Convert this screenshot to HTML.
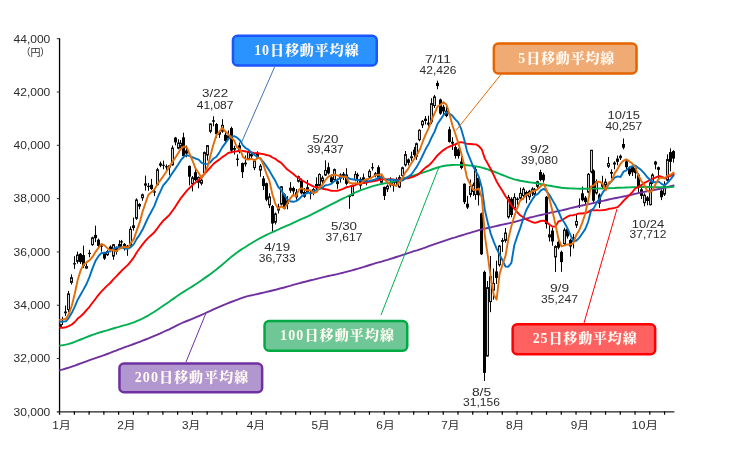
<!DOCTYPE html>
<html lang="ja"><head><meta charset="utf-8"><title>日経平均株価と移動平均線</title>
<style>html,body{margin:0;padding:0;background:#fff}svg{display:block}</style></head>
<body><svg width="755" height="468" viewBox="0 0 755 468">
<rect width="755" height="468" fill="#fff"/>
<g stroke="#000" stroke-width="1"><line x1="59.55" y1="38.2" x2="59.55" y2="414.7" stroke-width="1.3"/><line x1="56.8" y1="411.85" x2="674.4" y2="411.85" stroke-width="1.1" stroke="#222"/><line x1="56.8" y1="38.70" x2="59.5" y2="38.70" stroke="#333"/><line x1="56.8" y1="92.01" x2="59.5" y2="92.01" stroke="#333"/><line x1="56.8" y1="145.31" x2="59.5" y2="145.31" stroke="#333"/><line x1="56.8" y1="198.62" x2="59.5" y2="198.62" stroke="#333"/><line x1="56.8" y1="251.93" x2="59.5" y2="251.93" stroke="#333"/><line x1="56.8" y1="305.24" x2="59.5" y2="305.24" stroke="#333"/><line x1="56.8" y1="358.54" x2="59.5" y2="358.54" stroke="#333"/><line x1="74.36" y1="411.3" x2="74.36" y2="414.7" stroke-width="1.2"/><line x1="89.11" y1="411.3" x2="89.11" y2="414.7" stroke-width="1.2"/><line x1="103.87" y1="411.3" x2="103.87" y2="414.7" stroke-width="1.2"/><line x1="118.62" y1="411.3" x2="118.62" y2="414.7" stroke-width="1.2"/><line x1="133.38" y1="411.3" x2="133.38" y2="414.7" stroke-width="1.2"/><line x1="148.13" y1="411.3" x2="148.13" y2="414.7" stroke-width="1.2"/><line x1="162.89" y1="411.3" x2="162.89" y2="414.7" stroke-width="1.2"/><line x1="177.64" y1="411.3" x2="177.64" y2="414.7" stroke-width="1.2"/><line x1="192.40" y1="411.3" x2="192.40" y2="414.7" stroke-width="1.2"/><line x1="207.15" y1="411.3" x2="207.15" y2="414.7" stroke-width="1.2"/><line x1="221.91" y1="411.3" x2="221.91" y2="414.7" stroke-width="1.2"/><line x1="236.66" y1="411.3" x2="236.66" y2="414.7" stroke-width="1.2"/><line x1="251.41" y1="411.3" x2="251.41" y2="414.7" stroke-width="1.2"/><line x1="266.17" y1="411.3" x2="266.17" y2="414.7" stroke-width="1.2"/><line x1="280.93" y1="411.3" x2="280.93" y2="414.7" stroke-width="1.2"/><line x1="295.68" y1="411.3" x2="295.68" y2="414.7" stroke-width="1.2"/><line x1="310.44" y1="411.3" x2="310.44" y2="414.7" stroke-width="1.2"/><line x1="325.19" y1="411.3" x2="325.19" y2="414.7" stroke-width="1.2"/><line x1="339.95" y1="411.3" x2="339.95" y2="414.7" stroke-width="1.2"/><line x1="354.70" y1="411.3" x2="354.70" y2="414.7" stroke-width="1.2"/><line x1="369.46" y1="411.3" x2="369.46" y2="414.7" stroke-width="1.2"/><line x1="384.21" y1="411.3" x2="384.21" y2="414.7" stroke-width="1.2"/><line x1="398.97" y1="411.3" x2="398.97" y2="414.7" stroke-width="1.2"/><line x1="413.72" y1="411.3" x2="413.72" y2="414.7" stroke-width="1.2"/><line x1="428.48" y1="411.3" x2="428.48" y2="414.7" stroke-width="1.2"/><line x1="443.23" y1="411.3" x2="443.23" y2="414.7" stroke-width="1.2"/><line x1="457.99" y1="411.3" x2="457.99" y2="414.7" stroke-width="1.2"/><line x1="472.74" y1="411.3" x2="472.74" y2="414.7" stroke-width="1.2"/><line x1="487.50" y1="411.3" x2="487.50" y2="414.7" stroke-width="1.2"/><line x1="502.25" y1="411.3" x2="502.25" y2="414.7" stroke-width="1.2"/><line x1="517.00" y1="411.3" x2="517.00" y2="414.7" stroke-width="1.2"/><line x1="531.76" y1="411.3" x2="531.76" y2="414.7" stroke-width="1.2"/><line x1="546.51" y1="411.3" x2="546.51" y2="414.7" stroke-width="1.2"/><line x1="561.27" y1="411.3" x2="561.27" y2="414.7" stroke-width="1.2"/><line x1="576.03" y1="411.3" x2="576.03" y2="414.7" stroke-width="1.2"/><line x1="590.78" y1="411.3" x2="590.78" y2="414.7" stroke-width="1.2"/><line x1="605.54" y1="411.3" x2="605.54" y2="414.7" stroke-width="1.2"/><line x1="620.29" y1="411.3" x2="620.29" y2="414.7" stroke-width="1.2"/><line x1="635.05" y1="411.3" x2="635.05" y2="414.7" stroke-width="1.2"/><line x1="649.80" y1="411.3" x2="649.80" y2="414.7" stroke-width="1.2"/><line x1="664.56" y1="411.3" x2="664.56" y2="414.7" stroke-width="1.2"/></g>
<g><line x1="60.5" y1="323.9" x2="60.5" y2="327.9" stroke="#000" stroke-width="1"/><rect x="59.5" y="324.6" width="2" height="1.7" fill="#d4d4d4" stroke="#111" stroke-width="1"/><line x1="62.5" y1="316.8" x2="62.5" y2="325.0" stroke="#000" stroke-width="1"/><rect x="61.0" y="321.1" width="3" height="1.0" fill="#000"/><line x1="65.5" y1="305.5" x2="65.5" y2="315.9" stroke="#000" stroke-width="1"/><rect x="64.5" y="312.0" width="2" height="0.8" fill="#d4d4d4" stroke="#111" stroke-width="1"/><line x1="68.5" y1="290.9" x2="68.5" y2="312.2" stroke="#000" stroke-width="1"/><rect x="67.5" y="293.9" width="2" height="15.6" fill="#d4d4d4" stroke="#111" stroke-width="1"/><line x1="71.5" y1="274.4" x2="71.5" y2="284.5" stroke="#000" stroke-width="1"/><rect x="70.5" y="277.7" width="2" height="4.7" fill="#d4d4d4" stroke="#111" stroke-width="1"/><line x1="74.5" y1="256.2" x2="74.5" y2="268.9" stroke="#000" stroke-width="1"/><rect x="73.5" y="263.6" width="2" height="0.3" fill="#d4d4d4" stroke="#111" stroke-width="1"/><line x1="77.5" y1="251.7" x2="77.5" y2="263.7" stroke="#000" stroke-width="1"/><rect x="76.5" y="255.0" width="2" height="6.3" fill="#d4d4d4" stroke="#111" stroke-width="1"/><line x1="80.5" y1="253.0" x2="80.5" y2="263.9" stroke="#000" stroke-width="1"/><rect x="79.0" y="253.8" width="3" height="8.3" fill="#000"/><line x1="83.5" y1="245.6" x2="83.5" y2="267.9" stroke="#000" stroke-width="1"/><rect x="82.0" y="255.1" width="3" height="10.7" fill="#000"/><line x1="86.5" y1="263.7" x2="86.5" y2="268.7" stroke="#000" stroke-width="1"/><rect x="85.5" y="266.6" width="2" height="1.5" fill="#d4d4d4" stroke="#111" stroke-width="1"/><line x1="89.5" y1="249.9" x2="89.5" y2="257.3" stroke="#000" stroke-width="1"/><rect x="88.5" y="253.3" width="2" height="0.3" fill="#d4d4d4" stroke="#111" stroke-width="1"/><line x1="92.5" y1="236.7" x2="92.5" y2="245.8" stroke="#000" stroke-width="1"/><rect x="91.5" y="237.8" width="2" height="6.8" fill="#d4d4d4" stroke="#111" stroke-width="1"/><line x1="95.5" y1="225.7" x2="95.5" y2="242.1" stroke="#000" stroke-width="1"/><rect x="94.0" y="234.9" width="3" height="3.3" fill="#000"/><line x1="98.5" y1="238.6" x2="98.5" y2="247.1" stroke="#000" stroke-width="1"/><rect x="97.0" y="239.7" width="3" height="6.2" fill="#000"/><line x1="101.5" y1="243.9" x2="101.5" y2="251.7" stroke="#000" stroke-width="1"/><rect x="100.5" y="246.0" width="2" height="0.3" fill="#d4d4d4" stroke="#111" stroke-width="1"/><line x1="104.5" y1="251.9" x2="104.5" y2="259.9" stroke="#000" stroke-width="1"/><rect x="103.0" y="252.2" width="3" height="6.4" fill="#000"/><line x1="107.5" y1="250.1" x2="107.5" y2="255.9" stroke="#000" stroke-width="1"/><rect x="106.5" y="251.6" width="2" height="3.1" fill="#d4d4d4" stroke="#111" stroke-width="1"/><line x1="110.5" y1="245.3" x2="110.5" y2="252.2" stroke="#000" stroke-width="1"/><rect x="109.0" y="246.6" width="3" height="3.6" fill="#000"/><line x1="113.5" y1="244.1" x2="113.5" y2="259.8" stroke="#000" stroke-width="1"/><rect x="112.5" y="244.7" width="2" height="11.4" fill="#d4d4d4" stroke="#111" stroke-width="1"/><line x1="116.5" y1="246.6" x2="116.5" y2="254.6" stroke="#000" stroke-width="1"/><rect x="115.0" y="246.9" width="3" height="4.8" fill="#000"/><line x1="119.5" y1="240.2" x2="119.5" y2="249.3" stroke="#000" stroke-width="1"/><rect x="118.0" y="243.9" width="3" height="3.8" fill="#000"/><line x1="121.5" y1="239.9" x2="121.5" y2="246.6" stroke="#000" stroke-width="1"/><rect x="120.0" y="241.3" width="3" height="1.2" fill="#000"/><line x1="124.5" y1="243.1" x2="124.5" y2="250.6" stroke="#000" stroke-width="1"/><rect x="123.0" y="243.9" width="3" height="3.7" fill="#000"/><line x1="127.5" y1="245.0" x2="127.5" y2="255.8" stroke="#000" stroke-width="1"/><rect x="126.0" y="245.8" width="3" height="3.0" fill="#000"/><line x1="130.5" y1="226.4" x2="130.5" y2="246.6" stroke="#000" stroke-width="1"/><rect x="129.5" y="229.3" width="2" height="16.0" fill="#d4d4d4" stroke="#111" stroke-width="1"/><line x1="133.5" y1="217.6" x2="133.5" y2="230.6" stroke="#000" stroke-width="1"/><rect x="132.0" y="225.3" width="3" height="2.7" fill="#000"/><line x1="136.5" y1="198.4" x2="136.5" y2="219.9" stroke="#000" stroke-width="1"/><rect x="135.5" y="200.0" width="2" height="18.3" fill="#d4d4d4" stroke="#111" stroke-width="1"/><line x1="139.5" y1="203.2" x2="139.5" y2="209.3" stroke="#000" stroke-width="1"/><rect x="138.0" y="204.0" width="3" height="2.6" fill="#000"/><line x1="142.5" y1="193.6" x2="142.5" y2="200.8" stroke="#000" stroke-width="1"/><rect x="141.5" y="194.8" width="2" height="2.9" fill="#d4d4d4" stroke="#111" stroke-width="1"/><line x1="145.5" y1="175.6" x2="145.5" y2="190.6" stroke="#000" stroke-width="1"/><rect x="144.0" y="183.4" width="3" height="2.2" fill="#000"/><line x1="148.5" y1="182.9" x2="148.5" y2="190.8" stroke="#000" stroke-width="1"/><rect x="147.5" y="186.3" width="2" height="0.3" fill="#d4d4d4" stroke="#111" stroke-width="1"/><line x1="151.5" y1="178.9" x2="151.5" y2="189.8" stroke="#000" stroke-width="1"/><rect x="150.0" y="184.8" width="3" height="4.2" fill="#000"/><line x1="154.5" y1="189.6" x2="154.5" y2="196.1" stroke="#000" stroke-width="1"/><rect x="153.5" y="191.8" width="2" height="0.3" fill="#d4d4d4" stroke="#111" stroke-width="1"/><line x1="157.5" y1="167.8" x2="157.5" y2="185.3" stroke="#000" stroke-width="1"/><rect x="156.5" y="169.8" width="2" height="14.9" fill="#d4d4d4" stroke="#111" stroke-width="1"/><line x1="160.5" y1="161.6" x2="160.5" y2="167.2" stroke="#000" stroke-width="1"/><rect x="159.0" y="163.4" width="3" height="2.3" fill="#000"/><line x1="163.5" y1="160.6" x2="163.5" y2="169.3" stroke="#000" stroke-width="1"/><rect x="162.0" y="164.8" width="3" height="1.0" fill="#000"/><line x1="166.5" y1="164.4" x2="166.5" y2="170.0" stroke="#000" stroke-width="1"/><rect x="165.5" y="166.6" width="2" height="0.3" fill="#d4d4d4" stroke="#111" stroke-width="1"/><line x1="169.5" y1="165.3" x2="169.5" y2="175.3" stroke="#000" stroke-width="1"/><rect x="168.0" y="165.3" width="3" height="2.2" fill="#000"/><line x1="172.5" y1="145.6" x2="172.5" y2="165.6" stroke="#000" stroke-width="1"/><rect x="171.5" y="148.1" width="2" height="16.8" fill="#d4d4d4" stroke="#111" stroke-width="1"/><line x1="175.5" y1="136.9" x2="175.5" y2="145.3" stroke="#000" stroke-width="1"/><rect x="174.0" y="137.6" width="3" height="4.8" fill="#000"/><line x1="178.5" y1="139.3" x2="178.5" y2="149.3" stroke="#000" stroke-width="1"/><rect x="177.5" y="143.1" width="2" height="5.0" fill="#d4d4d4" stroke="#111" stroke-width="1"/><line x1="180.5" y1="140.0" x2="180.5" y2="148.0" stroke="#000" stroke-width="1"/><rect x="179.5" y="143.3" width="2" height="2.9" fill="#d4d4d4" stroke="#111" stroke-width="1"/><line x1="183.5" y1="132.7" x2="183.5" y2="158.2" stroke="#000" stroke-width="1"/><rect x="182.0" y="137.3" width="3" height="18.7" fill="#000"/><line x1="186.5" y1="145.6" x2="186.5" y2="157.3" stroke="#000" stroke-width="1"/><rect x="185.0" y="150.4" width="3" height="3.2" fill="#000"/><line x1="189.5" y1="165.6" x2="189.5" y2="185.4" stroke="#000" stroke-width="1"/><rect x="188.0" y="165.8" width="3" height="10.9" fill="#000"/><line x1="192.5" y1="176.0" x2="192.5" y2="191.4" stroke="#000" stroke-width="1"/><rect x="191.5" y="177.8" width="2" height="6.0" fill="#d4d4d4" stroke="#111" stroke-width="1"/><line x1="195.5" y1="168.0" x2="195.5" y2="181.3" stroke="#000" stroke-width="1"/><rect x="194.0" y="172.2" width="3" height="7.9" fill="#000"/><line x1="198.5" y1="176.5" x2="198.5" y2="188.3" stroke="#000" stroke-width="1"/><rect x="197.5" y="177.5" width="2" height="4.7" fill="#d4d4d4" stroke="#111" stroke-width="1"/><line x1="201.5" y1="177.3" x2="201.5" y2="185.3" stroke="#000" stroke-width="1"/><rect x="200.5" y="180.2" width="2" height="3.1" fill="#d4d4d4" stroke="#111" stroke-width="1"/><line x1="204.5" y1="151.5" x2="204.5" y2="173.8" stroke="#000" stroke-width="1"/><rect x="203.5" y="152.6" width="2" height="20.0" fill="#d4d4d4" stroke="#111" stroke-width="1"/><line x1="207.5" y1="145.2" x2="207.5" y2="160.6" stroke="#000" stroke-width="1"/><rect x="206.5" y="145.6" width="2" height="9.4" fill="#d4d4d4" stroke="#111" stroke-width="1"/><line x1="210.5" y1="123.4" x2="210.5" y2="133.3" stroke="#000" stroke-width="1"/><rect x="209.5" y="124.0" width="2" height="7.3" fill="#d4d4d4" stroke="#111" stroke-width="1"/><line x1="213.5" y1="116.3" x2="213.5" y2="126.3" stroke="#000" stroke-width="1"/><rect x="212.0" y="120.3" width="3" height="1.4" fill="#000"/><line x1="216.5" y1="123.0" x2="216.5" y2="137.9" stroke="#000" stroke-width="1"/><rect x="215.0" y="124.0" width="3" height="10.2" fill="#000"/><line x1="219.5" y1="131.2" x2="219.5" y2="137.9" stroke="#000" stroke-width="1"/><rect x="218.0" y="132.0" width="3" height="2.7" fill="#000"/><line x1="222.5" y1="119.2" x2="222.5" y2="132.8" stroke="#000" stroke-width="1"/><rect x="221.5" y="125.4" width="2" height="5.7" fill="#d4d4d4" stroke="#111" stroke-width="1"/><line x1="225.5" y1="132.0" x2="225.5" y2="143.9" stroke="#000" stroke-width="1"/><rect x="224.0" y="134.7" width="3" height="6.2" fill="#000"/><line x1="228.5" y1="130.4" x2="228.5" y2="140.0" stroke="#000" stroke-width="1"/><rect x="227.5" y="135.9" width="2" height="2.4" fill="#d4d4d4" stroke="#111" stroke-width="1"/><line x1="231.5" y1="126.7" x2="231.5" y2="153.2" stroke="#000" stroke-width="1"/><rect x="230.0" y="128.1" width="3" height="22.5" fill="#000"/><line x1="234.5" y1="145.8" x2="234.5" y2="154.6" stroke="#000" stroke-width="1"/><rect x="233.0" y="148.0" width="3" height="1.7" fill="#000"/><line x1="237.5" y1="154.4" x2="237.5" y2="166.2" stroke="#000" stroke-width="1"/><rect x="236.0" y="158.6" width="3" height="1.3" fill="#000"/><line x1="239.5" y1="142.6" x2="239.5" y2="153.3" stroke="#000" stroke-width="1"/><rect x="238.0" y="145.3" width="3" height="6.1" fill="#000"/><line x1="242.5" y1="162.6" x2="242.5" y2="178.0" stroke="#000" stroke-width="1"/><rect x="241.0" y="163.1" width="3" height="9.1" fill="#000"/><line x1="245.5" y1="155.5" x2="245.5" y2="166.6" stroke="#000" stroke-width="1"/><rect x="244.5" y="163.1" width="2" height="0.7" fill="#d4d4d4" stroke="#111" stroke-width="1"/><line x1="248.5" y1="150.6" x2="248.5" y2="160.0" stroke="#000" stroke-width="1"/><rect x="247.5" y="151.8" width="2" height="7.0" fill="#d4d4d4" stroke="#111" stroke-width="1"/><line x1="251.5" y1="152.0" x2="251.5" y2="158.6" stroke="#000" stroke-width="1"/><rect x="250.0" y="153.8" width="3" height="2.6" fill="#000"/><line x1="254.5" y1="159.2" x2="254.5" y2="170.2" stroke="#000" stroke-width="1"/><rect x="253.5" y="160.6" width="2" height="7.0" fill="#d4d4d4" stroke="#111" stroke-width="1"/><line x1="257.5" y1="151.3" x2="257.5" y2="159.2" stroke="#000" stroke-width="1"/><rect x="256.0" y="152.8" width="3" height="5.3" fill="#000"/><line x1="260.5" y1="164.0" x2="260.5" y2="176.8" stroke="#000" stroke-width="1"/><rect x="259.5" y="166.2" width="2" height="3.9" fill="#d4d4d4" stroke="#111" stroke-width="1"/><line x1="263.5" y1="176.0" x2="263.5" y2="190.0" stroke="#000" stroke-width="1"/><rect x="262.0" y="178.4" width="3" height="7.7" fill="#000"/><line x1="266.5" y1="182.6" x2="266.5" y2="201.3" stroke="#000" stroke-width="1"/><rect x="265.0" y="183.2" width="3" height="16.5" fill="#000"/><line x1="269.5" y1="193.3" x2="269.5" y2="208.1" stroke="#000" stroke-width="1"/><rect x="268.5" y="196.9" width="2" height="8.0" fill="#d4d4d4" stroke="#111" stroke-width="1"/><line x1="272.5" y1="205.0" x2="272.5" y2="232.4" stroke="#000" stroke-width="1"/><rect x="271.0" y="206.1" width="3" height="17.4" fill="#000"/><line x1="275.5" y1="212.5" x2="275.5" y2="224.5" stroke="#000" stroke-width="1"/><rect x="274.5" y="214.0" width="2" height="8.2" fill="#d4d4d4" stroke="#111" stroke-width="1"/><line x1="278.5" y1="203.7" x2="278.5" y2="213.5" stroke="#000" stroke-width="1"/><rect x="277.0" y="206.6" width="3" height="3.9" fill="#000"/><line x1="281.5" y1="186.1" x2="281.5" y2="205.3" stroke="#000" stroke-width="1"/><rect x="280.5" y="186.8" width="2" height="17.3" fill="#d4d4d4" stroke="#111" stroke-width="1"/><line x1="284.5" y1="193.3" x2="284.5" y2="209.3" stroke="#000" stroke-width="1"/><rect x="283.0" y="194.4" width="3" height="14.2" fill="#000"/><line x1="287.5" y1="196.0" x2="287.5" y2="209.3" stroke="#000" stroke-width="1"/><rect x="286.5" y="200.8" width="2" height="2.8" fill="#d4d4d4" stroke="#111" stroke-width="1"/><line x1="290.5" y1="182.1" x2="290.5" y2="192.8" stroke="#000" stroke-width="1"/><rect x="289.5" y="188.2" width="2" height="2.0" fill="#d4d4d4" stroke="#111" stroke-width="1"/><line x1="293.5" y1="186.6" x2="293.5" y2="196.0" stroke="#000" stroke-width="1"/><rect x="292.0" y="188.0" width="3" height="3.4" fill="#000"/><line x1="296.5" y1="189.0" x2="296.5" y2="199.7" stroke="#000" stroke-width="1"/><rect x="295.5" y="192.7" width="2" height="4.2" fill="#d4d4d4" stroke="#111" stroke-width="1"/><line x1="298.5" y1="175.6" x2="298.5" y2="182.6" stroke="#000" stroke-width="1"/><rect x="297.5" y="176.8" width="2" height="4.4" fill="#d4d4d4" stroke="#111" stroke-width="1"/><line x1="301.5" y1="178.6" x2="301.5" y2="194.4" stroke="#000" stroke-width="1"/><rect x="300.0" y="180.6" width="3" height="12.7" fill="#000"/><line x1="304.5" y1="188.0" x2="304.5" y2="197.8" stroke="#000" stroke-width="1"/><rect x="303.0" y="192.0" width="3" height="4.7" fill="#000"/><line x1="307.5" y1="180.0" x2="307.5" y2="193.3" stroke="#000" stroke-width="1"/><rect x="306.0" y="187.2" width="3" height="5.4" fill="#000"/><line x1="310.5" y1="190.6" x2="310.5" y2="199.4" stroke="#000" stroke-width="1"/><rect x="309.0" y="193.1" width="3" height="1.0" fill="#000"/><line x1="313.5" y1="188.0" x2="313.5" y2="195.2" stroke="#000" stroke-width="1"/><rect x="312.5" y="189.5" width="2" height="3.4" fill="#d4d4d4" stroke="#111" stroke-width="1"/><line x1="316.5" y1="177.3" x2="316.5" y2="190.1" stroke="#000" stroke-width="1"/><rect x="315.0" y="184.0" width="3" height="4.4" fill="#000"/><line x1="319.5" y1="173.3" x2="319.5" y2="186.6" stroke="#000" stroke-width="1"/><rect x="318.5" y="174.5" width="2" height="10.9" fill="#d4d4d4" stroke="#111" stroke-width="1"/><line x1="322.5" y1="175.7" x2="322.5" y2="184.8" stroke="#000" stroke-width="1"/><rect x="321.5" y="178.0" width="2" height="3.1" fill="#d4d4d4" stroke="#111" stroke-width="1"/><line x1="325.5" y1="160.3" x2="325.5" y2="176.0" stroke="#000" stroke-width="1"/><rect x="324.5" y="170.5" width="2" height="4.5" fill="#d4d4d4" stroke="#111" stroke-width="1"/><line x1="328.5" y1="162.7" x2="328.5" y2="174.6" stroke="#000" stroke-width="1"/><rect x="327.0" y="167.2" width="3" height="6.2" fill="#000"/><line x1="331.5" y1="174.6" x2="331.5" y2="184.0" stroke="#000" stroke-width="1"/><rect x="330.0" y="177.3" width="3" height="4.9" fill="#000"/><line x1="334.5" y1="168.5" x2="334.5" y2="181.3" stroke="#000" stroke-width="1"/><rect x="333.5" y="169.6" width="2" height="9.9" fill="#d4d4d4" stroke="#111" stroke-width="1"/><line x1="337.5" y1="178.6" x2="337.5" y2="188.8" stroke="#000" stroke-width="1"/><rect x="336.5" y="181.8" width="2" height="1.8" fill="#d4d4d4" stroke="#111" stroke-width="1"/><line x1="340.5" y1="173.3" x2="340.5" y2="182.6" stroke="#000" stroke-width="1"/><rect x="339.5" y="175.0" width="2" height="3.2" fill="#d4d4d4" stroke="#111" stroke-width="1"/><line x1="343.5" y1="172.0" x2="343.5" y2="180.0" stroke="#000" stroke-width="1"/><rect x="342.0" y="173.8" width="3" height="2.0" fill="#000"/><line x1="346.5" y1="168.2" x2="346.5" y2="185.3" stroke="#000" stroke-width="1"/><rect x="345.0" y="174.6" width="3" height="9.2" fill="#000"/><line x1="349.5" y1="194.9" x2="349.5" y2="208.8" stroke="#000" stroke-width="1"/><rect x="348.0" y="195.6" width="3" height="1.5" fill="#000"/><line x1="352.5" y1="184.6" x2="352.5" y2="196.3" stroke="#000" stroke-width="1"/><rect x="351.5" y="186.0" width="2" height="9.5" fill="#d4d4d4" stroke="#111" stroke-width="1"/><line x1="355.5" y1="171.1" x2="355.5" y2="181.3" stroke="#000" stroke-width="1"/><rect x="354.5" y="174.4" width="2" height="5.1" fill="#d4d4d4" stroke="#111" stroke-width="1"/><line x1="357.5" y1="172.8" x2="357.5" y2="183.2" stroke="#000" stroke-width="1"/><rect x="356.0" y="174.6" width="3" height="1.7" fill="#000"/><line x1="360.5" y1="177.3" x2="360.5" y2="189.6" stroke="#000" stroke-width="1"/><rect x="359.0" y="178.9" width="3" height="6.7" fill="#000"/><line x1="363.5" y1="173.6" x2="363.5" y2="182.6" stroke="#000" stroke-width="1"/><rect x="362.0" y="177.3" width="3" height="2.6" fill="#000"/><line x1="366.5" y1="178.6" x2="366.5" y2="185.3" stroke="#000" stroke-width="1"/><rect x="365.5" y="180.8" width="2" height="0.9" fill="#d4d4d4" stroke="#111" stroke-width="1"/><line x1="369.5" y1="169.3" x2="369.5" y2="178.6" stroke="#000" stroke-width="1"/><rect x="368.5" y="171.4" width="2" height="5.5" fill="#d4d4d4" stroke="#111" stroke-width="1"/><line x1="372.5" y1="163.0" x2="372.5" y2="170.6" stroke="#000" stroke-width="1"/><rect x="371.0" y="167.2" width="3" height="1.2" fill="#000"/><line x1="375.5" y1="172.0" x2="375.5" y2="177.3" stroke="#000" stroke-width="1"/><rect x="374.0" y="173.3" width="3" height="2.0" fill="#000"/><line x1="378.5" y1="165.3" x2="378.5" y2="180.2" stroke="#000" stroke-width="1"/><rect x="377.0" y="167.2" width="3" height="12.3" fill="#000"/><line x1="381.5" y1="174.6" x2="381.5" y2="183.9" stroke="#000" stroke-width="1"/><rect x="380.5" y="177.3" width="2" height="4.9" fill="#d4d4d4" stroke="#111" stroke-width="1"/><line x1="384.5" y1="186.6" x2="384.5" y2="200.0" stroke="#000" stroke-width="1"/><rect x="383.0" y="186.9" width="3" height="9.0" fill="#000"/><line x1="387.5" y1="184.5" x2="387.5" y2="192.0" stroke="#000" stroke-width="1"/><rect x="386.5" y="186.2" width="2" height="2.7" fill="#d4d4d4" stroke="#111" stroke-width="1"/><line x1="390.5" y1="177.3" x2="390.5" y2="187.4" stroke="#000" stroke-width="1"/><rect x="389.5" y="183.8" width="2" height="1.1" fill="#d4d4d4" stroke="#111" stroke-width="1"/><line x1="393.5" y1="180.0" x2="393.5" y2="191.7" stroke="#000" stroke-width="1"/><rect x="392.5" y="182.1" width="2" height="3.3" fill="#d4d4d4" stroke="#111" stroke-width="1"/><line x1="396.5" y1="177.4" x2="396.5" y2="186.6" stroke="#000" stroke-width="1"/><rect x="395.0" y="181.3" width="3" height="1.4" fill="#000"/><line x1="399.5" y1="175.2" x2="399.5" y2="188.0" stroke="#000" stroke-width="1"/><rect x="398.5" y="177.6" width="2" height="9.4" fill="#d4d4d4" stroke="#111" stroke-width="1"/><line x1="402.5" y1="166.6" x2="402.5" y2="177.3" stroke="#000" stroke-width="1"/><rect x="401.5" y="167.8" width="2" height="7.8" fill="#d4d4d4" stroke="#111" stroke-width="1"/><line x1="405.5" y1="151.0" x2="405.5" y2="166.6" stroke="#000" stroke-width="1"/><rect x="404.5" y="154.6" width="2" height="10.3" fill="#d4d4d4" stroke="#111" stroke-width="1"/><line x1="408.5" y1="158.4" x2="408.5" y2="165.3" stroke="#000" stroke-width="1"/><rect x="407.0" y="159.4" width="3" height="3.4" fill="#000"/><line x1="411.5" y1="151.7" x2="411.5" y2="160.8" stroke="#000" stroke-width="1"/><rect x="410.5" y="156.8" width="2" height="0.9" fill="#d4d4d4" stroke="#111" stroke-width="1"/><line x1="414.5" y1="146.9" x2="414.5" y2="157.3" stroke="#000" stroke-width="1"/><rect x="413.0" y="149.6" width="3" height="5.5" fill="#000"/><line x1="416.5" y1="142.6" x2="416.5" y2="159.8" stroke="#000" stroke-width="1"/><rect x="415.5" y="143.7" width="2" height="12.6" fill="#d4d4d4" stroke="#111" stroke-width="1"/><line x1="419.5" y1="129.3" x2="419.5" y2="141.3" stroke="#000" stroke-width="1"/><rect x="418.5" y="130.3" width="2" height="9.3" fill="#d4d4d4" stroke="#111" stroke-width="1"/><line x1="422.5" y1="120.0" x2="422.5" y2="128.0" stroke="#000" stroke-width="1"/><rect x="421.5" y="121.4" width="2" height="3.5" fill="#d4d4d4" stroke="#111" stroke-width="1"/><line x1="425.5" y1="116.0" x2="425.5" y2="124.5" stroke="#000" stroke-width="1"/><rect x="424.0" y="118.7" width="3" height="2.3" fill="#000"/><line x1="428.5" y1="115.7" x2="428.5" y2="126.7" stroke="#000" stroke-width="1"/><rect x="427.0" y="122.7" width="3" height="1.9" fill="#000"/><line x1="431.5" y1="98.2" x2="431.5" y2="124.0" stroke="#000" stroke-width="1"/><rect x="430.5" y="103.6" width="2" height="18.1" fill="#d4d4d4" stroke="#111" stroke-width="1"/><line x1="434.5" y1="95.0" x2="434.5" y2="108.0" stroke="#000" stroke-width="1"/><rect x="433.5" y="96.9" width="2" height="8.6" fill="#d4d4d4" stroke="#111" stroke-width="1"/><line x1="437.5" y1="80.7" x2="437.5" y2="89.3" stroke="#000" stroke-width="1"/><rect x="436.0" y="82.9" width="3" height="3.2" fill="#000"/><line x1="440.5" y1="98.6" x2="440.5" y2="114.7" stroke="#000" stroke-width="1"/><rect x="439.0" y="99.5" width="3" height="14.1" fill="#000"/><line x1="443.5" y1="104.8" x2="443.5" y2="114.7" stroke="#000" stroke-width="1"/><rect x="442.0" y="106.7" width="3" height="4.7" fill="#000"/><line x1="446.5" y1="106.2" x2="446.5" y2="117.2" stroke="#000" stroke-width="1"/><rect x="445.0" y="110.7" width="3" height="5.4" fill="#000"/><line x1="449.5" y1="126.7" x2="449.5" y2="142.6" stroke="#000" stroke-width="1"/><rect x="448.0" y="129.3" width="3" height="12.6" fill="#000"/><line x1="452.5" y1="137.3" x2="452.5" y2="150.0" stroke="#000" stroke-width="1"/><rect x="451.0" y="141.8" width="3" height="1.8" fill="#000"/><line x1="455.5" y1="145.3" x2="455.5" y2="158.6" stroke="#000" stroke-width="1"/><rect x="454.0" y="147.0" width="3" height="9.0" fill="#000"/><line x1="458.5" y1="148.3" x2="458.5" y2="158.6" stroke="#000" stroke-width="1"/><rect x="457.0" y="149.3" width="3" height="6.8" fill="#000"/><line x1="461.5" y1="155.2" x2="461.5" y2="169.3" stroke="#000" stroke-width="1"/><rect x="460.0" y="161.5" width="3" height="6.4" fill="#000"/><line x1="464.5" y1="183.4" x2="464.5" y2="204.0" stroke="#000" stroke-width="1"/><rect x="463.0" y="183.7" width="3" height="18.4" fill="#000"/><line x1="467.5" y1="195.8" x2="467.5" y2="209.0" stroke="#000" stroke-width="1"/><rect x="466.0" y="203.7" width="3" height="3.8" fill="#000"/><line x1="470.5" y1="179.5" x2="470.5" y2="197.3" stroke="#000" stroke-width="1"/><rect x="469.5" y="186.5" width="2" height="7.9" fill="#d4d4d4" stroke="#111" stroke-width="1"/><line x1="473.5" y1="182.6" x2="473.5" y2="196.0" stroke="#000" stroke-width="1"/><rect x="472.5" y="185.0" width="2" height="6.5" fill="#d4d4d4" stroke="#111" stroke-width="1"/><line x1="475.5" y1="167.0" x2="475.5" y2="199.8" stroke="#000" stroke-width="1"/><rect x="474.5" y="169.7" width="2" height="24.8" fill="#d4d4d4" stroke="#111" stroke-width="1"/><line x1="478.5" y1="177.8" x2="478.5" y2="205.5" stroke="#000" stroke-width="1"/><rect x="477.0" y="177.8" width="3" height="17.5" fill="#000"/><line x1="481.5" y1="212.7" x2="481.5" y2="255.1" stroke="#000" stroke-width="1"/><rect x="480.0" y="213.4" width="3" height="40.9" fill="#000"/><line x1="484.5" y1="270.6" x2="484.5" y2="381.0" stroke="#000" stroke-width="1"/><rect x="483.0" y="271.9" width="3" height="101.0" fill="#000"/><line x1="487.5" y1="281.0" x2="487.5" y2="356.5" stroke="#000" stroke-width="1"/><rect x="486.5" y="287.6" width="2" height="68.4" fill="#d4d4d4" stroke="#111" stroke-width="1"/><line x1="490.5" y1="256.0" x2="490.5" y2="312.2" stroke="#000" stroke-width="1"/><rect x="489.5" y="276.6" width="2" height="25.0" fill="#d4d4d4" stroke="#111" stroke-width="1"/><line x1="493.5" y1="268.5" x2="493.5" y2="299.7" stroke="#000" stroke-width="1"/><rect x="492.5" y="283.5" width="2" height="6.7" fill="#d4d4d4" stroke="#111" stroke-width="1"/><line x1="496.5" y1="260.7" x2="496.5" y2="283.9" stroke="#000" stroke-width="1"/><rect x="495.0" y="271.4" width="3" height="6.5" fill="#000"/><line x1="499.5" y1="245.0" x2="499.5" y2="266.6" stroke="#000" stroke-width="1"/><rect x="498.5" y="246.1" width="2" height="18.7" fill="#d4d4d4" stroke="#111" stroke-width="1"/><line x1="502.5" y1="238.1" x2="502.5" y2="251.9" stroke="#000" stroke-width="1"/><rect x="501.5" y="240.5" width="2" height="0.9" fill="#d4d4d4" stroke="#111" stroke-width="1"/><line x1="505.5" y1="227.9" x2="505.5" y2="242.6" stroke="#000" stroke-width="1"/><rect x="504.5" y="233.0" width="2" height="7.4" fill="#d4d4d4" stroke="#111" stroke-width="1"/><line x1="508.5" y1="194.8" x2="508.5" y2="218.6" stroke="#000" stroke-width="1"/><rect x="507.5" y="197.4" width="2" height="19.5" fill="#d4d4d4" stroke="#111" stroke-width="1"/><line x1="511.5" y1="197.3" x2="511.5" y2="217.3" stroke="#000" stroke-width="1"/><rect x="510.0" y="198.8" width="3" height="16.2" fill="#000"/><line x1="514.5" y1="193.3" x2="514.5" y2="209.3" stroke="#000" stroke-width="1"/><rect x="513.5" y="197.4" width="2" height="10.3" fill="#d4d4d4" stroke="#111" stroke-width="1"/><line x1="517.5" y1="197.3" x2="517.5" y2="204.8" stroke="#000" stroke-width="1"/><rect x="516.0" y="198.6" width="3" height="1.3" fill="#000"/><line x1="520.5" y1="187.7" x2="520.5" y2="200.0" stroke="#000" stroke-width="1"/><rect x="519.5" y="193.4" width="2" height="4.8" fill="#d4d4d4" stroke="#111" stroke-width="1"/><line x1="523.5" y1="187.3" x2="523.5" y2="199.4" stroke="#000" stroke-width="1"/><rect x="522.5" y="189.3" width="2" height="6.2" fill="#d4d4d4" stroke="#111" stroke-width="1"/><line x1="526.5" y1="190.6" x2="526.5" y2="203.2" stroke="#000" stroke-width="1"/><rect x="525.0" y="192.0" width="3" height="3.7" fill="#000"/><line x1="529.5" y1="189.8" x2="529.5" y2="200.0" stroke="#000" stroke-width="1"/><rect x="528.5" y="191.3" width="2" height="5.5" fill="#d4d4d4" stroke="#111" stroke-width="1"/><line x1="532.5" y1="187.2" x2="532.5" y2="196.0" stroke="#000" stroke-width="1"/><rect x="531.5" y="189.1" width="2" height="3.8" fill="#d4d4d4" stroke="#111" stroke-width="1"/><line x1="534.5" y1="188.0" x2="534.5" y2="197.8" stroke="#000" stroke-width="1"/><rect x="533.5" y="189.4" width="2" height="4.9" fill="#d4d4d4" stroke="#111" stroke-width="1"/><line x1="537.5" y1="180.8" x2="537.5" y2="188.0" stroke="#000" stroke-width="1"/><rect x="536.5" y="181.8" width="2" height="4.5" fill="#d4d4d4" stroke="#111" stroke-width="1"/><line x1="540.5" y1="169.8" x2="540.5" y2="181.3" stroke="#000" stroke-width="1"/><rect x="539.0" y="172.0" width="3" height="8.0" fill="#000"/><line x1="543.5" y1="172.8" x2="543.5" y2="182.6" stroke="#000" stroke-width="1"/><rect x="542.0" y="174.6" width="3" height="5.7" fill="#000"/><line x1="546.5" y1="196.0" x2="546.5" y2="228.5" stroke="#000" stroke-width="1"/><rect x="545.0" y="196.8" width="3" height="27.3" fill="#000"/><line x1="549.5" y1="225.3" x2="549.5" y2="241.5" stroke="#000" stroke-width="1"/><rect x="548.5" y="234.8" width="2" height="2.1" fill="#d4d4d4" stroke="#111" stroke-width="1"/><line x1="552.5" y1="227.9" x2="552.5" y2="245.7" stroke="#000" stroke-width="1"/><rect x="551.0" y="230.6" width="3" height="10.9" fill="#000"/><line x1="555.5" y1="245.3" x2="555.5" y2="272.0" stroke="#000" stroke-width="1"/><rect x="554.5" y="246.6" width="2" height="10.3" fill="#d4d4d4" stroke="#111" stroke-width="1"/><line x1="558.5" y1="237.6" x2="558.5" y2="249.3" stroke="#000" stroke-width="1"/><rect x="557.0" y="241.8" width="3" height="5.9" fill="#000"/><line x1="561.5" y1="250.6" x2="561.5" y2="271.8" stroke="#000" stroke-width="1"/><rect x="560.0" y="251.9" width="3" height="10.2" fill="#000"/><line x1="564.5" y1="227.9" x2="564.5" y2="245.3" stroke="#000" stroke-width="1"/><rect x="563.5" y="230.1" width="2" height="13.4" fill="#d4d4d4" stroke="#111" stroke-width="1"/><line x1="567.5" y1="228.2" x2="567.5" y2="238.6" stroke="#000" stroke-width="1"/><rect x="566.0" y="229.0" width="3" height="7.4" fill="#000"/><line x1="570.5" y1="238.6" x2="570.5" y2="256.5" stroke="#000" stroke-width="1"/><rect x="569.0" y="239.9" width="3" height="6.6" fill="#000"/><line x1="573.5" y1="233.9" x2="573.5" y2="248.5" stroke="#000" stroke-width="1"/><rect x="572.0" y="237.3" width="3" height="4.5" fill="#000"/><line x1="576.5" y1="214.8" x2="576.5" y2="227.9" stroke="#000" stroke-width="1"/><rect x="575.5" y="221.5" width="2" height="3.6" fill="#d4d4d4" stroke="#111" stroke-width="1"/><line x1="579.5" y1="198.4" x2="579.5" y2="208.0" stroke="#000" stroke-width="1"/><rect x="578.0" y="205.1" width="3" height="1.0" fill="#000"/><line x1="582.5" y1="186.6" x2="582.5" y2="201.3" stroke="#000" stroke-width="1"/><rect x="581.0" y="193.3" width="3" height="6.9" fill="#000"/><line x1="585.5" y1="196.0" x2="585.5" y2="204.0" stroke="#000" stroke-width="1"/><rect x="584.0" y="197.6" width="3" height="4.5" fill="#000"/><line x1="588.5" y1="173.0" x2="588.5" y2="193.3" stroke="#000" stroke-width="1"/><rect x="587.5" y="174.4" width="2" height="17.7" fill="#d4d4d4" stroke="#111" stroke-width="1"/><line x1="591.5" y1="149.9" x2="591.5" y2="173.3" stroke="#000" stroke-width="1"/><rect x="590.5" y="150.3" width="2" height="21.5" fill="#d4d4d4" stroke="#111" stroke-width="1"/><line x1="593.5" y1="169.3" x2="593.5" y2="204.0" stroke="#000" stroke-width="1"/><rect x="592.0" y="170.6" width="3" height="30.1" fill="#000"/><line x1="596.5" y1="179.4" x2="596.5" y2="194.6" stroke="#000" stroke-width="1"/><rect x="595.5" y="181.7" width="2" height="11.2" fill="#d4d4d4" stroke="#111" stroke-width="1"/><line x1="599.5" y1="193.3" x2="599.5" y2="207.9" stroke="#000" stroke-width="1"/><rect x="598.0" y="194.6" width="3" height="9.1" fill="#000"/><line x1="602.5" y1="175.8" x2="602.5" y2="189.3" stroke="#000" stroke-width="1"/><rect x="601.5" y="184.3" width="2" height="1.9" fill="#d4d4d4" stroke="#111" stroke-width="1"/><line x1="605.5" y1="178.6" x2="605.5" y2="188.0" stroke="#000" stroke-width="1"/><rect x="604.5" y="182.1" width="2" height="2.8" fill="#d4d4d4" stroke="#111" stroke-width="1"/><line x1="608.5" y1="157.0" x2="608.5" y2="168.0" stroke="#000" stroke-width="1"/><rect x="607.5" y="163.5" width="2" height="2.7" fill="#d4d4d4" stroke="#111" stroke-width="1"/><line x1="611.5" y1="169.3" x2="611.5" y2="178.6" stroke="#000" stroke-width="1"/><rect x="610.0" y="172.0" width="3" height="1.7" fill="#000"/><line x1="614.5" y1="161.3" x2="614.5" y2="169.3" stroke="#000" stroke-width="1"/><rect x="613.0" y="162.6" width="3" height="1.9" fill="#000"/><line x1="617.5" y1="155.5" x2="617.5" y2="165.3" stroke="#000" stroke-width="1"/><rect x="616.0" y="158.6" width="3" height="3.2" fill="#000"/><line x1="620.5" y1="154.6" x2="620.5" y2="160.0" stroke="#000" stroke-width="1"/><rect x="619.5" y="156.2" width="2" height="1.5" fill="#d4d4d4" stroke="#111" stroke-width="1"/><line x1="623.5" y1="138.5" x2="623.5" y2="149.3" stroke="#000" stroke-width="1"/><rect x="622.0" y="144.0" width="3" height="3.7" fill="#000"/><line x1="626.5" y1="160.0" x2="626.5" y2="169.3" stroke="#000" stroke-width="1"/><rect x="625.0" y="161.3" width="3" height="5.9" fill="#000"/><line x1="629.5" y1="166.6" x2="629.5" y2="176.0" stroke="#000" stroke-width="1"/><rect x="628.0" y="168.5" width="3" height="5.8" fill="#000"/><line x1="632.5" y1="165.8" x2="632.5" y2="176.0" stroke="#000" stroke-width="1"/><rect x="631.0" y="166.6" width="3" height="5.8" fill="#000"/><line x1="635.5" y1="167.2" x2="635.5" y2="178.6" stroke="#000" stroke-width="1"/><rect x="634.0" y="168.0" width="3" height="5.2" fill="#000"/><line x1="638.5" y1="173.3" x2="638.5" y2="193.3" stroke="#000" stroke-width="1"/><rect x="637.0" y="174.6" width="3" height="13.0" fill="#000"/><line x1="641.5" y1="188.0" x2="641.5" y2="199.0" stroke="#000" stroke-width="1"/><rect x="640.0" y="189.3" width="3" height="6.6" fill="#000"/><line x1="644.5" y1="193.3" x2="644.5" y2="206.3" stroke="#000" stroke-width="1"/><rect x="643.5" y="195.2" width="2" height="7.5" fill="#d4d4d4" stroke="#111" stroke-width="1"/><line x1="647.5" y1="196.0" x2="647.5" y2="205.3" stroke="#000" stroke-width="1"/><rect x="646.0" y="197.3" width="3" height="3.7" fill="#000"/><line x1="650.5" y1="181.3" x2="650.5" y2="205.3" stroke="#000" stroke-width="1"/><rect x="649.5" y="182.9" width="2" height="21.8" fill="#d4d4d4" stroke="#111" stroke-width="1"/><line x1="652.5" y1="173.3" x2="652.5" y2="184.0" stroke="#000" stroke-width="1"/><rect x="651.5" y="175.0" width="2" height="7.3" fill="#d4d4d4" stroke="#111" stroke-width="1"/><line x1="655.5" y1="160.9" x2="655.5" y2="169.3" stroke="#000" stroke-width="1"/><rect x="654.0" y="161.6" width="3" height="3.0" fill="#000"/><line x1="658.5" y1="166.6" x2="658.5" y2="178.6" stroke="#000" stroke-width="1"/><rect x="657.0" y="167.2" width="3" height="2.6" fill="#000"/><line x1="661.5" y1="189.3" x2="661.5" y2="200.1" stroke="#000" stroke-width="1"/><rect x="660.0" y="190.6" width="3" height="6.6" fill="#000"/><line x1="664.5" y1="181.3" x2="664.5" y2="196.0" stroke="#000" stroke-width="1"/><rect x="663.5" y="186.4" width="2" height="7.8" fill="#d4d4d4" stroke="#111" stroke-width="1"/><line x1="667.5" y1="154.3" x2="667.5" y2="181.3" stroke="#000" stroke-width="1"/><rect x="666.5" y="159.6" width="2" height="20.6" fill="#d4d4d4" stroke="#111" stroke-width="1"/><line x1="670.5" y1="148.4" x2="670.5" y2="171.4" stroke="#000" stroke-width="1"/><rect x="669.0" y="152.1" width="3" height="9.7" fill="#000"/><line x1="673.5" y1="150.2" x2="673.5" y2="162.6" stroke="#000" stroke-width="1"/><rect x="672.0" y="151.1" width="3" height="7.5" fill="#000"/></g>
<polyline points="60.0,370.2 63.0,369.4 65.9,368.5 68.8,367.6 71.8,366.6 74.8,365.6 77.7,364.5 80.7,363.4 83.6,362.3 86.5,361.3 89.5,360.2 92.5,359.2 95.4,358.2 98.3,357.1 101.3,356.1 104.2,355.1 107.2,354.0 110.2,352.9 113.1,351.7 116.1,350.6 119.0,349.4 122.0,348.3 124.9,347.2 127.9,346.2 130.8,345.1 133.8,344.0 136.7,342.9 139.7,341.8 142.6,340.7 145.6,339.5 148.5,338.4 151.4,337.2 154.4,335.9 157.4,334.7 160.3,333.4 163.2,332.0 166.2,330.7 169.2,329.3 172.1,327.8 175.1,326.4 178.0,324.9 180.9,323.5 183.9,322.2 186.9,321.0 189.8,319.8 192.8,318.6 195.7,317.4 198.7,316.1 201.6,314.8 204.6,313.5 207.5,312.1 210.5,310.8 213.4,309.4 216.4,308.1 219.3,306.8 222.2,305.6 225.2,304.4 228.2,303.2 231.1,302.0 234.1,300.9 237.0,299.8 240.0,298.7 242.9,297.7 245.9,296.7 248.8,295.9 251.8,295.3 254.7,294.6 257.6,294.0 260.6,293.3 263.6,292.6 266.5,291.9 269.5,291.2 272.4,290.5 275.4,289.8 278.3,289.0 281.2,288.2 284.2,287.5 287.1,286.6 290.1,285.8 293.1,284.9 296.0,284.1 299.0,283.3 301.9,282.5 304.9,281.8 307.8,281.0 310.8,280.3 313.7,279.6 316.7,278.8 319.6,278.1 322.6,277.4 325.5,276.7 328.4,276.0 331.4,275.4 334.4,274.8 337.3,274.1 340.2,273.4 343.2,272.7 346.2,271.9 349.1,271.1 352.1,270.3 355.0,269.5 358.0,268.7 360.9,267.8 363.9,266.9 366.8,266.0 369.8,265.0 372.7,264.1 375.7,263.2 378.6,262.4 381.6,261.6 384.5,260.7 387.5,259.9 390.4,258.9 393.4,258.0 396.3,257.0 399.2,256.1 402.2,255.1 405.2,254.1 408.1,253.1 411.1,252.2 414.0,251.2 417.0,250.3 419.9,249.3 422.9,248.4 425.8,247.3 428.8,246.2 431.7,245.1 434.7,244.1 437.6,243.1 440.6,242.1 443.5,241.1 446.5,240.1 449.4,239.2 452.4,238.2 455.3,237.3 458.2,236.3 461.2,235.5 464.2,234.6 467.1,233.7 470.1,232.8 473.0,231.9 476.0,231.1 478.9,230.2 481.9,229.4 484.8,228.7 487.8,228.0 490.7,227.3 493.7,226.6 496.6,226.0 499.6,225.3 502.5,224.6 505.5,224.0 508.4,223.4 511.4,222.8 514.3,222.0 517.2,221.2 520.2,220.3 523.2,219.4 526.1,218.6 529.0,217.8 532.0,217.1 535.0,216.4 537.9,215.7 540.9,215.0 543.8,214.3 546.8,213.6 549.7,212.9 552.7,212.3 555.6,211.6 558.5,211.0 561.5,210.4 564.5,209.7 567.4,209.0 570.4,208.2 573.3,207.5 576.2,206.8 579.2,206.2 582.1,205.5 585.1,204.9 588.1,204.3 591.0,203.6 594.0,202.9 596.9,202.2 599.9,201.5 602.8,200.9 605.8,200.2 608.7,199.5 611.6,198.9 614.6,198.3 617.6,197.7 620.5,197.1 623.5,196.5 626.4,195.9 629.4,195.2 632.3,194.5 635.2,193.8 638.2,193.1 641.2,192.5 644.1,191.9 647.1,191.3 650.0,190.7 653.0,190.2 655.9,189.6 658.9,189.0 661.8,188.4 664.8,187.7 667.7,187.0 670.7,186.2 673.6,185.5" fill="none" stroke="#7030a0" stroke-width="1.9" stroke-linejoin="round" stroke-linecap="round"/>
<polyline points="60.0,345.6 63.0,345.1 65.9,344.6 68.8,343.9 71.8,343.0 74.8,341.9 77.7,340.7 80.7,339.5 83.6,338.3 86.5,337.2 89.5,336.0 92.5,334.9 95.4,333.9 98.3,332.9 101.3,332.0 104.2,331.1 107.2,330.3 110.2,329.4 113.1,328.5 116.1,327.6 119.0,326.8 122.0,325.9 124.9,325.2 127.9,324.3 130.8,323.4 133.8,322.4 136.7,321.2 139.7,319.9 142.6,318.5 145.6,316.9 148.5,315.3 151.4,313.5 154.4,311.7 157.4,309.8 160.3,307.8 163.2,305.8 166.2,303.7 169.2,301.7 172.1,299.6 175.1,297.6 178.0,295.5 180.9,293.5 183.9,291.6 186.9,289.8 189.8,288.0 192.8,286.1 195.7,284.2 198.7,282.3 201.6,280.2 204.6,278.1 207.5,276.1 210.5,274.0 213.4,271.8 216.4,269.5 219.3,267.1 222.2,264.7 225.2,262.1 228.2,259.6 231.1,257.1 234.1,254.7 237.0,252.5 240.0,250.4 242.9,248.5 245.9,246.7 248.8,244.8 251.8,243.0 254.7,241.2 257.6,239.5 260.6,237.8 263.6,236.3 266.5,234.9 269.5,233.5 272.4,232.2 275.4,230.8 278.3,229.5 281.2,228.2 284.2,226.9 287.1,225.6 290.1,224.3 293.1,222.9 296.0,221.6 299.0,220.2 301.9,218.9 304.9,217.6 307.8,216.3 310.8,214.9 313.7,213.4 316.7,211.9 319.6,210.4 322.6,208.8 325.5,207.3 328.4,205.8 331.4,204.3 334.4,202.8 337.3,201.4 340.2,199.9 343.2,198.4 346.2,197.0 349.1,195.5 352.1,194.1 355.0,192.7 358.0,191.4 360.9,190.2 363.9,189.1 366.8,188.1 369.8,187.1 372.7,186.2 375.7,185.4 378.6,184.7 381.6,184.0 384.5,183.4 387.5,182.8 390.4,182.2 393.4,181.5 396.3,180.6 399.2,179.8 402.2,178.9 405.2,178.0 408.1,177.1 411.1,176.2 414.0,175.3 417.0,174.4 419.9,173.5 422.9,172.6 425.8,171.6 428.8,170.6 431.7,169.5 434.7,168.5 437.6,167.5 440.6,166.7 443.5,166.0 446.5,165.5 449.4,165.2 452.4,165.0 455.3,164.9 458.2,164.9 461.2,164.9 464.2,165.0 467.1,165.2 470.1,165.5 473.0,165.9 476.0,166.4 478.9,166.9 481.9,167.6 484.8,168.5 487.8,169.4 490.7,170.5 493.7,171.5 496.6,172.6 499.6,173.8 502.5,175.0 505.5,176.1 508.4,177.3 511.4,178.4 514.3,179.3 517.2,180.0 520.2,180.7 523.2,181.2 526.1,181.7 529.0,182.2 532.0,182.6 535.0,183.0 537.9,183.5 540.9,184.0 543.8,184.6 546.8,185.2 549.7,185.7 552.7,186.3 555.6,186.8 558.5,187.2 561.5,187.7 564.5,188.0 567.4,188.2 570.4,188.4 573.3,188.5 576.2,188.6 579.2,188.7 582.1,188.7 585.1,188.7 588.1,188.7 591.0,188.6 594.0,188.6 596.9,188.6 599.9,188.5 602.8,188.4 605.8,188.3 608.7,188.2 611.6,188.1 614.6,188.0 617.6,187.8 620.5,187.7 623.5,187.6 626.4,187.5 629.4,187.4 632.3,187.2 635.2,187.1 638.2,187.1 641.2,187.0 644.1,187.0 647.1,187.0 650.0,187.0 653.0,187.1 655.9,187.2 658.9,187.3 661.8,187.3 664.8,187.3 667.7,187.2 670.7,187.0 673.6,186.7" fill="none" stroke="#00b050" stroke-width="1.9" stroke-linejoin="round" stroke-linecap="round"/>
<polyline points="60.0,327.7 63.0,327.7 65.9,327.2 68.8,326.2 71.8,324.5 74.8,322.0 77.7,318.6 80.7,316.3 83.6,313.5 86.5,310.2 89.5,306.8 92.5,302.8 95.4,299.0 98.3,295.2 101.3,291.7 104.2,288.6 107.2,285.6 110.2,283.0 113.1,279.7 116.1,276.6 119.0,273.5 122.0,270.3 124.9,267.6 127.9,264.9 130.8,261.3 133.8,257.4 136.7,252.5 139.7,248.3 142.6,244.4 145.6,240.7 148.5,237.6 151.4,235.0 154.4,232.2 157.4,228.3 160.3,224.3 163.2,220.8 166.2,218.0 169.2,215.1 172.1,211.2 175.1,207.1 178.0,202.5 180.9,198.1 183.9,194.4 186.9,190.7 189.8,187.7 192.8,184.9 195.7,182.4 198.7,179.6 201.6,176.8 204.6,173.8 207.5,170.5 210.5,167.4 213.4,164.0 216.4,161.6 219.3,159.6 222.2,157.1 225.2,155.2 228.2,153.0 231.1,152.2 234.1,151.6 237.0,151.3 240.0,150.7 242.9,150.9 245.9,151.5 248.8,151.9 251.8,152.4 254.7,153.1 257.6,153.2 260.6,153.7 263.6,154.1 266.5,155.0 269.5,155.6 272.4,157.5 275.4,158.8 278.3,161.2 281.2,162.8 284.2,166.2 287.1,169.3 290.1,171.5 293.1,173.8 296.0,176.4 299.0,177.9 301.9,180.2 304.9,182.0 307.8,183.7 310.8,185.1 313.7,186.6 316.7,187.3 319.6,187.7 322.6,188.8 325.5,189.3 328.4,189.8 331.4,190.8 334.4,190.9 337.3,190.8 340.2,189.8 343.2,188.9 346.2,187.3 349.1,186.7 352.1,185.7 355.0,185.2 358.0,183.9 360.9,183.3 363.9,183.0 366.8,182.6 369.8,181.7 372.7,181.4 375.7,180.7 378.6,180.0 381.6,179.3 384.5,179.4 387.5,179.3 390.4,179.1 393.4,179.4 396.3,179.6 399.2,179.9 402.2,179.6 405.2,178.5 408.1,178.3 411.1,177.3 414.0,176.5 417.0,175.2 419.9,173.0 422.9,170.0 425.8,167.4 428.8,165.4 431.7,162.5 434.7,158.9 437.6,155.2 440.6,152.5 443.5,150.1 446.5,148.0 449.4,146.7 452.4,145.3 455.3,144.4 458.2,142.8 461.2,142.1 464.2,142.9 467.1,143.9 470.1,144.0 473.0,144.3 476.0,144.4 478.9,146.1 481.9,149.7 484.8,158.4 487.8,163.7 490.7,169.0 493.7,175.1 496.6,181.4 499.6,186.4 502.5,191.0 505.5,196.2 508.4,200.2 511.4,205.3 514.3,208.7 517.2,212.2 520.2,215.3 523.2,217.2 526.1,219.3 529.0,220.7 532.0,222.0 535.0,222.8 537.9,222.0 540.9,220.9 543.8,220.6 546.8,222.2 549.7,224.8 552.7,226.7 555.6,226.4 558.5,221.3 561.5,220.3 564.5,218.5 567.4,216.6 570.4,215.4 573.3,215.2 576.2,214.4 579.2,213.4 582.1,213.5 585.1,213.0 588.1,212.1 591.0,210.1 594.0,210.4 596.9,210.1 599.9,210.4 602.8,210.1 605.8,209.8 608.7,208.8 611.6,208.5 614.6,207.9 617.6,207.1 620.5,204.4 623.5,200.9 626.4,198.0 629.4,195.1 632.3,192.1 635.2,188.5 638.2,186.8 641.2,185.2 644.1,183.1 647.1,181.5 650.0,180.0 653.0,178.7 655.9,177.3 658.9,176.0 661.8,176.9 664.8,178.4 667.7,176.7 670.7,175.9 673.6,174.1" fill="none" stroke="#ff0000" stroke-width="1.9" stroke-linejoin="round" stroke-linecap="round"/>
<polyline points="60.0,321.9 63.0,321.5 65.9,321.3 68.8,317.8 71.8,312.8 74.8,306.6 77.7,299.7 80.7,294.5 83.6,289.4 86.5,284.0 89.5,276.9 92.5,268.4 95.4,261.1 98.3,256.4 101.3,253.2 104.2,252.7 107.2,252.4 110.2,251.2 113.1,249.0 116.1,247.6 119.0,247.1 122.0,247.6 124.9,248.5 127.9,248.8 130.8,247.1 133.8,244.1 136.7,238.9 139.7,234.6 142.6,229.6 145.6,223.0 148.5,216.8 151.4,211.5 154.4,205.9 157.4,197.9 160.3,191.6 163.2,185.4 166.2,182.0 169.2,178.1 172.1,173.5 175.1,169.1 178.0,164.8 180.9,160.2 183.9,156.6 186.9,155.1 189.8,156.2 192.8,157.4 195.7,158.7 198.7,159.7 201.6,162.9 204.6,163.9 207.5,164.1 210.5,162.2 213.4,158.7 216.4,156.8 219.3,152.6 222.2,147.4 225.2,143.4 228.2,139.3 231.1,136.4 234.1,136.1 237.0,137.6 240.0,140.3 242.9,145.4 245.9,148.2 248.8,149.9 251.8,153.1 254.7,155.0 257.6,157.2 260.6,158.8 263.6,162.4 266.5,166.4 269.5,170.9 272.4,176.0 275.4,181.1 278.3,187.0 281.2,190.0 284.2,194.9 287.1,199.1 290.1,201.3 293.1,201.8 296.0,201.1 299.0,199.1 301.9,196.1 304.9,194.4 307.8,192.6 310.8,193.3 313.7,191.4 316.7,190.2 319.6,188.8 322.6,187.4 325.5,185.2 328.4,184.9 331.4,183.8 334.4,181.1 337.3,179.9 340.2,178.0 343.2,176.7 346.2,176.2 349.1,178.5 352.1,179.3 355.0,179.7 358.0,180.0 360.9,180.4 363.9,181.4 366.8,181.3 369.8,181.0 372.7,180.2 375.7,179.4 378.6,177.6 381.6,176.7 384.5,178.9 387.5,179.9 390.4,179.6 393.4,179.8 396.3,180.1 399.2,180.7 402.2,180.6 405.2,178.5 408.1,176.8 411.1,174.8 414.0,170.7 417.0,166.4 419.9,161.1 422.9,155.0 425.8,148.8 428.8,143.6 431.7,137.2 434.7,131.4 437.6,123.7 440.6,119.4 443.5,115.0 446.5,112.3 449.4,113.5 452.4,115.8 455.3,119.3 458.2,122.4 461.2,128.9 464.2,139.5 467.1,151.6 470.1,158.9 473.0,166.2 476.0,171.5 478.9,176.9 481.9,187.9 484.8,209.6 487.8,222.7 490.7,233.6 493.7,241.7 496.6,248.7 499.6,254.7 502.5,260.2 505.5,266.6 508.4,266.7 511.4,262.8 514.3,245.2 517.2,236.4 520.2,228.1 523.2,218.7 526.1,210.5 529.0,205.0 532.0,199.9 535.0,195.5 537.9,193.9 540.9,190.4 543.8,188.8 546.8,191.2 549.7,195.3 552.7,200.6 555.6,205.6 558.5,211.3 561.5,218.7 564.5,222.7 567.4,228.2 570.4,234.9 573.3,241.0 576.2,240.8 579.2,237.9 582.1,233.8 585.1,229.4 588.1,222.0 591.0,210.8 594.0,207.9 596.9,202.4 599.9,198.1 602.8,192.3 605.8,188.4 608.7,184.1 611.6,181.4 614.6,177.7 617.6,176.4 620.5,177.0 623.5,171.7 626.4,170.3 629.4,167.4 632.3,166.2 635.2,165.4 638.2,167.8 641.2,170.1 644.1,173.1 647.1,177.0 650.0,179.7 653.0,182.3 655.9,182.1 658.9,181.6 661.8,184.1 664.8,185.4 667.7,182.5 670.7,179.1 673.6,175.5" fill="none" stroke="#0070c0" stroke-width="1.9" stroke-linejoin="round" stroke-linecap="round"/>
<polyline points="60.0,319.8 63.0,319.4 65.9,318.9 68.8,314.1 71.8,305.7 74.8,293.5 77.7,280.0 80.7,270.1 83.6,264.6 86.5,262.4 89.5,260.3 92.5,256.9 95.4,252.1 98.3,248.1 101.3,244.0 104.2,245.1 107.2,247.9 110.2,250.3 113.1,250.0 116.1,251.2 119.0,249.0 122.0,247.3 124.9,246.8 127.9,247.7 130.8,243.1 133.8,239.2 136.7,230.6 139.7,222.4 142.6,211.5 145.6,202.8 148.5,194.5 151.4,192.3 154.4,189.4 157.4,184.3 160.3,180.4 163.2,176.3 166.2,171.8 169.2,166.9 172.1,162.6 175.1,157.9 178.0,153.4 180.9,148.7 183.9,146.4 186.9,147.5 189.8,154.4 192.8,161.3 195.7,168.8 198.7,173.0 201.6,178.2 204.6,173.3 207.5,166.9 210.5,155.6 213.4,144.5 216.4,135.4 219.3,131.9 222.2,127.8 225.2,131.3 228.2,134.1 231.1,137.3 234.1,140.3 237.0,147.3 240.0,149.4 242.9,156.7 245.9,159.2 248.8,159.5 251.8,158.8 254.7,160.6 257.6,157.8 260.6,158.4 263.6,165.3 266.5,173.9 269.5,181.2 272.4,194.3 275.4,203.9 278.3,208.8 281.2,206.1 284.2,208.5 287.1,203.9 290.1,198.7 293.1,194.9 296.0,196.1 299.0,189.6 301.9,188.2 304.9,190.0 307.8,190.2 310.8,190.5 313.7,193.1 316.7,192.1 319.6,187.6 322.6,184.6 325.5,179.9 328.4,176.7 331.4,175.5 334.4,174.5 337.3,175.3 340.2,176.2 343.2,176.7 346.2,177.0 349.1,182.6 352.1,183.4 355.0,183.3 358.0,183.4 360.9,183.7 363.9,180.3 366.8,179.2 369.8,178.6 372.7,177.0 375.7,175.0 378.6,174.9 381.6,174.2 384.5,179.2 387.5,182.7 390.4,184.3 393.4,184.8 396.3,185.9 399.2,182.2 402.2,178.5 405.2,172.6 408.1,168.9 411.1,163.6 414.0,159.2 417.0,154.4 419.9,149.5 422.9,141.2 425.8,134.1 428.8,127.9 431.7,119.9 434.7,113.2 437.6,106.3 440.6,104.8 443.5,102.1 446.5,104.7 449.4,113.8 452.4,125.3 455.3,133.8 458.2,142.8 461.2,153.1 464.2,165.1 467.1,177.9 470.1,184.0 473.0,189.6 476.0,189.9 478.9,188.6 481.9,197.9 484.8,235.3 487.8,255.8 490.7,277.2 493.7,294.8 496.6,299.5 499.6,274.0 502.5,264.6 505.5,255.9 508.4,238.7 511.4,226.1 514.3,216.3 517.2,208.3 520.2,200.4 523.2,198.7 526.1,194.9 529.0,193.7 532.0,191.5 535.0,190.7 537.9,189.1 540.9,186.0 543.8,183.9 546.8,190.9 549.7,200.0 552.7,212.0 555.6,225.3 558.5,238.8 561.5,246.4 564.5,245.4 567.4,244.4 570.4,244.5 573.3,243.3 576.2,235.1 579.2,230.4 582.1,223.1 585.1,214.3 588.1,200.7 591.0,186.4 594.0,185.4 596.9,181.6 599.9,181.9 602.8,183.9 605.8,190.3 608.7,182.7 611.6,181.2 614.6,173.4 617.6,169.0 620.5,163.8 623.5,160.7 626.4,159.4 629.4,161.4 632.3,163.5 635.2,167.0 638.2,175.0 641.2,180.7 644.1,184.8 647.1,190.5 650.0,192.4 653.0,189.7 655.9,183.5 658.9,178.5 661.8,177.7 664.8,178.4 667.7,175.4 670.7,174.8 673.6,172.6" fill="none" stroke="#e36c0a" stroke-width="1.9" stroke-linejoin="round" stroke-linecap="round"/>
<g stroke-width="1" fill="none">
<line x1="274.6" y1="67" x2="241.7" y2="142" stroke="#2e62a8" stroke-width="0.9"/>
<line x1="500.5" y1="75" x2="456" y2="130.5" stroke="#e36c0a"/>
<line x1="186" y1="362" x2="206" y2="313" stroke="#7030a0"/>
<line x1="381" y1="315" x2="439" y2="167" stroke="#00b050"/>
<line x1="584" y1="323" x2="617" y2="209" stroke="#ff0000"/>
</g>
<g font-family="'Liberation Sans','Noto Sans CJK JP',sans-serif" font-size="11.5" fill="#2b2b2b"><text x="50.3" y="42.5" text-anchor="end" textLength="36.8" lengthAdjust="spacingAndGlyphs">44,000</text><text x="50.3" y="95.8" text-anchor="end" textLength="36.8" lengthAdjust="spacingAndGlyphs">42,000</text><text x="50.3" y="149.1" text-anchor="end" textLength="36.8" lengthAdjust="spacingAndGlyphs">40,000</text><text x="50.3" y="202.4" text-anchor="end" textLength="36.8" lengthAdjust="spacingAndGlyphs">38,000</text><text x="50.3" y="255.7" text-anchor="end" textLength="36.8" lengthAdjust="spacingAndGlyphs">36,000</text><text x="50.3" y="309.0" text-anchor="end" textLength="36.8" lengthAdjust="spacingAndGlyphs">34,000</text><text x="50.3" y="362.3" text-anchor="end" textLength="36.8" lengthAdjust="spacingAndGlyphs">32,000</text><text x="50.3" y="415.7" text-anchor="end" textLength="36.8" lengthAdjust="spacingAndGlyphs">30,000</text><text x="35.4" y="56.1" text-anchor="middle" font-size="10" style="font-feature-settings:'palt'" textLength="20" lengthAdjust="spacingAndGlyphs">（円）</text><text x="61.5" y="429.3" text-anchor="middle" font-size="10" textLength="18.3" lengthAdjust="spacingAndGlyphs">1月</text><text x="126.3" y="429.3" text-anchor="middle" font-size="10" textLength="18.3" lengthAdjust="spacingAndGlyphs">2月</text><text x="191.1" y="429.3" text-anchor="middle" font-size="10" textLength="18.3" lengthAdjust="spacingAndGlyphs">3月</text><text x="255.9" y="429.3" text-anchor="middle" font-size="10" textLength="18.3" lengthAdjust="spacingAndGlyphs">4月</text><text x="320.7" y="429.3" text-anchor="middle" font-size="10" textLength="18.3" lengthAdjust="spacingAndGlyphs">5月</text><text x="385.5" y="429.3" text-anchor="middle" font-size="10" textLength="18.3" lengthAdjust="spacingAndGlyphs">6月</text><text x="450.3" y="429.3" text-anchor="middle" font-size="10" textLength="18.3" lengthAdjust="spacingAndGlyphs">7月</text><text x="515.1" y="429.3" text-anchor="middle" font-size="10" textLength="18.3" lengthAdjust="spacingAndGlyphs">8月</text><text x="579.9" y="429.3" text-anchor="middle" font-size="10" textLength="18.3" lengthAdjust="spacingAndGlyphs">9月</text><text x="644.7" y="429.3" text-anchor="middle" font-size="10" textLength="26.5" lengthAdjust="spacingAndGlyphs">10月</text><text x="215.1" y="97.3" text-anchor="middle" textLength="26.0" lengthAdjust="spacingAndGlyphs">3/22</text><text x="215.1" y="108.7" text-anchor="middle" textLength="36.8" lengthAdjust="spacingAndGlyphs">41,087</text><text x="325.4" y="142.6" text-anchor="middle" textLength="26.0" lengthAdjust="spacingAndGlyphs">5/20</text><text x="325.4" y="152.6" text-anchor="middle" textLength="36.8" lengthAdjust="spacingAndGlyphs">39,437</text><text x="277.2" y="250.8" text-anchor="middle" textLength="26.0" lengthAdjust="spacingAndGlyphs">4/19</text><text x="277.2" y="261.5" text-anchor="middle" textLength="36.8" lengthAdjust="spacingAndGlyphs">36,733</text><text x="344.0" y="230.0" text-anchor="middle" textLength="26.0" lengthAdjust="spacingAndGlyphs">5/30</text><text x="344.0" y="240.5" text-anchor="middle" textLength="36.8" lengthAdjust="spacingAndGlyphs">37,617</text><text x="438.0" y="62.6" text-anchor="middle" textLength="26.0" lengthAdjust="spacingAndGlyphs">7/11</text><text x="438.0" y="73.7" text-anchor="middle" textLength="36.8" lengthAdjust="spacingAndGlyphs">42,426</text><text x="539.5" y="152.6" text-anchor="middle" textLength="19.2" lengthAdjust="spacingAndGlyphs">9/2</text><text x="539.5" y="163.7" text-anchor="middle" textLength="36.8" lengthAdjust="spacingAndGlyphs">39,080</text><text x="623.8" y="119.4" text-anchor="middle" textLength="32.5" lengthAdjust="spacingAndGlyphs">10/15</text><text x="623.8" y="129.7" text-anchor="middle" textLength="36.8" lengthAdjust="spacingAndGlyphs">40,257</text><text x="559.5" y="291.6" text-anchor="middle" textLength="19.2" lengthAdjust="spacingAndGlyphs">9/9</text><text x="559.5" y="302.6" text-anchor="middle" textLength="36.8" lengthAdjust="spacingAndGlyphs">35,247</text><text x="648.0" y="227.6" text-anchor="middle" textLength="32.5" lengthAdjust="spacingAndGlyphs">10/24</text><text x="648.0" y="237.6" text-anchor="middle" textLength="36.8" lengthAdjust="spacingAndGlyphs">37,712</text><text x="481.5" y="396.0" text-anchor="middle" textLength="19.2" lengthAdjust="spacingAndGlyphs">8/5</text><text x="481.5" y="406.0" text-anchor="middle" textLength="36.8" lengthAdjust="spacingAndGlyphs">31,156</text></g>
<rect x="232.95" y="35.75" width="143.80" height="29.70" rx="4.5" ry="4.5" fill="#2a93ff" stroke="#1b55ff" stroke-width="2.5"/><text x="306.4" y="54.7" text-anchor="middle" fill="#fffaf2" font-family="'Liberation Serif','Noto Serif CJK SC',serif" font-weight="900" font-size="14" textLength="104.5">10日移動平均線</text>
<rect x="493.85" y="43.45" width="142.70" height="30.10" rx="4.5" ry="4.5" fill="#f0ab74" stroke="#e46500" stroke-width="2.5"/><text x="566.3" y="62.6" text-anchor="middle" fill="#fffaf2" font-family="'Liberation Serif','Noto Serif CJK SC',serif" font-weight="900" font-size="14" textLength="96.0">5日移動平均線</text>
<rect x="119.45" y="363.45" width="142.70" height="28.70" rx="4.5" ry="4.5" fill="#b296d0" stroke="#7030a0" stroke-width="2.5"/><text x="191.5" y="381.9" text-anchor="middle" fill="#fffaf2" font-family="'Liberation Serif','Noto Serif CJK SC',serif" font-weight="900" font-size="14" textLength="113.5">200日移動平均線</text>
<rect x="264.55" y="321.05" width="142.70" height="29.60" rx="4.5" ry="4.5" fill="#6fc697" stroke="#02aa44" stroke-width="2.5"/><text x="337.1" y="340.0" text-anchor="middle" fill="#fffaf2" font-family="'Liberation Serif','Noto Serif CJK SC',serif" font-weight="900" font-size="14" textLength="114.0">100日移動平均線</text>
<rect x="512.65" y="324.35" width="142.50" height="29.90" rx="4.5" ry="4.5" fill="#ff6060" stroke="#ff0000" stroke-width="2.5"/><text x="584.7" y="343.4" text-anchor="middle" fill="#fffaf2" font-family="'Liberation Serif','Noto Serif CJK SC',serif" font-weight="900" font-size="14" textLength="104.0">25日移動平均線</text>
</svg></body></html>
